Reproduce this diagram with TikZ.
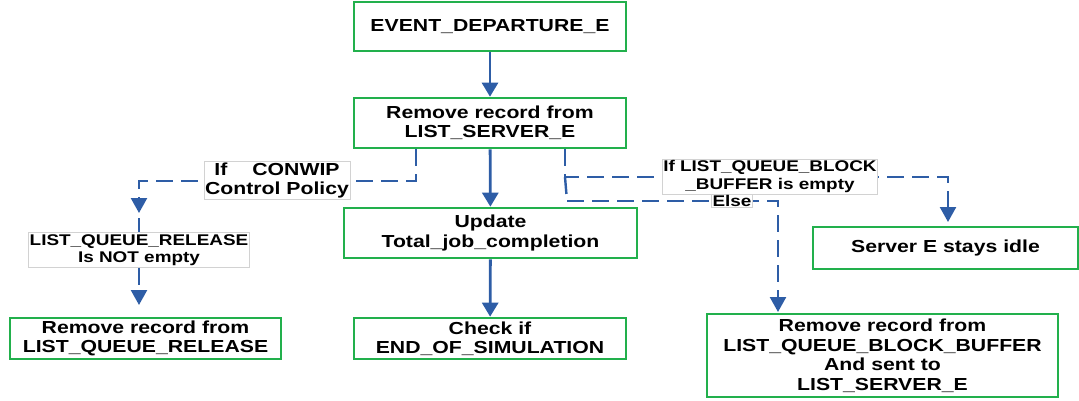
\documentclass[tikz,border=0pt]{standalone}
\usepackage{fontspec}
\newfontfamily\flowfont[FakeStretch=1.22]{Liberation Sans}
\usetikzlibrary{arrows.meta}
\definecolor{flowblue}{HTML}{2E5DA6}
\definecolor{boxgreen}{HTML}{22B04C}
\definecolor{tagborder}{HTML}{D2D2D2}
\tikzset{
  stepbox/.style={draw=boxgreen, line width=2.6pt, fill=white, align=center,
    inner sep=0pt, font=\flowfont\bfseries\fontsize{17.4}{19.5}\selectfont},
  tag/.style={draw=tagborder, line width=0.8pt, fill=white, align=center,
    inner xsep=1pt, inner ysep=1.5pt, font=\flowfont\bfseries\fontsize{15.5}{17.5}\selectfont},
  bigtag/.style={tag, font=\flowfont\bfseries\fontsize{17.4}{19}\selectfont},
  flow/.style={draw=flowblue, line width=2.8pt, -{Triangle[width=16pt,length=14pt]}},
  branch/.style={draw=flowblue, line width=2.4pt, dash pattern=on 17pt off 8pt},
  branchend/.style={branch, -{Triangle[width=16pt,length=15pt]}},
}
\begin{document}
\begin{tikzpicture}[x=1pt, y=-1pt]
\useasboundingbox (0,0) rectangle (1079,400);

% process boxes
\node[stepbox, minimum width=272pt, minimum height=49pt] (dep) at (490,26.5) {EVENT\_DEPARTURE\_E};
\node[stepbox, minimum width=272pt, minimum height=50pt] (srv) at (490,123) {Remove record from\\LIST\_SERVER\_E};
\node[stepbox, minimum width=293pt, minimum height=50pt] (upd) at (490.5,233) {Update\\Total\_job\_completion};
\node[stepbox, minimum width=272pt, minimum height=41pt] (chk) at (490,338.5) {Check if\\END\_OF\_SIMULATION};
\node[stepbox, minimum width=271pt, minimum height=41pt] (rel) at (145.5,338.5) {Remove record from\\LIST\_QUEUE\_RELEASE};
\node[stepbox, minimum width=265pt, minimum height=42pt] (idle) at (945.5,248) {Server E stays idle};
\node[stepbox, minimum width=351pt, minimum height=83pt] (blk) at (882.5,355.5) {Remove record from\\LIST\_QUEUE\_BLOCK\_BUFFER\\And sent to\\LIST\_SERVER\_E};

% main flow
\draw[flow] (dep) -- (srv);
\draw[flow] (srv) -- (upd);
\draw[flow] (upd) -- (chk);

% CONWIP branch
\coordinate (kneeA) at (139,181);
\coordinate (tipA) at (139,213);
\coordinate (resumeA) at (139,218);
\coordinate (tipB) at (139,305);
\draw[branchend] ([xshift=-74pt]srv.south) |- (kneeA) -- (tipA);
\node[tag] (relq) at (139,250) {LIST\_QUEUE\_RELEASE\\Is NOT empty};
\draw[branch] (resumeA) -- (relq.north);
\draw[branchend] (relq.south) -- (tipB);

% block buffer branch
\coordinate (fork) at (565,177);
\coordinate (kneeC) at (948,177);
\coordinate (tipC) at (948,222);
\coordinate (kneeD) at (567,201);
\coordinate (tipD) at (778,312);
\draw[branchend] ([xshift=75pt]srv.south) |- (kneeC) -- (tipC);
\draw[branch] (fork) -- (kneeD);
\draw[branchend] (kneeD) -| (tipD);

% condition labels
\node[bigtag] (conwip) at (277,180.5) {If\hspace{25pt}CONWIP\\Control Policy};
\node[tag] (empty) at (770,176.5) {If LIST\_QUEUE\_BLOCK\\\_BUFFER is empty};
\node[tag, inner ysep=0.5pt] (else) at (732,201) {Else};
\end{tikzpicture}
\end{document}
